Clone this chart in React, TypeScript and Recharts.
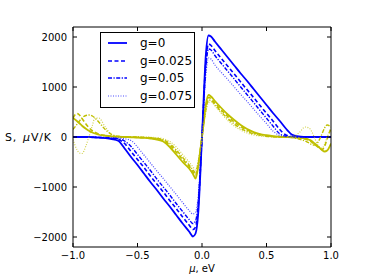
import { Label, Legend, Line, LineChart, XAxis, YAxis } from "recharts";

// chemical potential grid (eV), denser near the gap edges and the ends
const mu = [
  -1.0, -0.97, -0.95, -0.93, -0.9, -0.87, -0.85, -0.83, -0.8,
  -0.75, -0.7, -0.65, -0.6, -0.55, -0.5, -0.45, -0.4, -0.35, -0.3, -0.25, -0.2, -0.15, -0.1, -0.07, -0.05, -0.03,
  0, 0.03, 0.05, 0.07, 0.1, 0.15, 0.2, 0.25, 0.3, 0.35, 0.4, 0.45, 0.5, 0.55, 0.6, 0.65, 0.7, 0.75,
  0.8, 0.83, 0.85, 0.87, 0.9, 0.93, 0.95, 0.97, 1.0,
];

// S, uV/K — blue family
const blue0 = [
  0, 0, 0, 0, 0, -3, -5, -8, -12,
  -22, -40, -75, -230, -400, -560, -730, -900, -1060, -1230, -1390, -1560, -1730, -1890, -1990, -1930, -1550,
  0, 1650, 2030, 2010, 1910, 1750, 1590, 1430, 1270, 1120, 960, 800, 640, 480, 330, 170, 45, 10,
  3, 0, 0, 0, 0, 0, 0, 0, 0,
];
const blue1 = [
  0, 0, 0, 0, 0, -3, -5, -7, -10,
  -18, -30, -50, -130, -290, -450, -610, -780, -940, -1100, -1270, -1430, -1600, -1760, -1850, -1800, -1420,
  0, 1500, 1860, 1830, 1730, 1570, 1415, 1260, 1100, 945, 790, 630, 475, 320, 160, 40, 10, 3,
  0, 0, 0, 0, 0, 0, 0, 0, 0,
];
const blue2 = [
  0, 0, 0, 0, 0, -2, -4, -6, -8,
  -14, -22, -35, -80, -190, -350, -510, -670, -840, -1000, -1160, -1330, -1490, -1650, -1730, -1680, -1330,
  0, 1400, 1760, 1740, 1630, 1470, 1315, 1160, 1000, 845, 690, 530, 375, 220, 70, 15, 5, 0,
  0, 0, 0, 0, 0, 0, 0, 0, 0,
];
const blue3 = [
  0, 0, 0, 0, 0, 0, -2, -3, -5,
  -8, -12, -20, -35, -70, -200, -360, -520, -680, -830, -990, -1150, -1310, -1470, -1540, -1500, -1200,
  0, 1250, 1580, 1560, 1440, 1290, 1150, 1000, 850, 710, 560, 410, 270, 120, 35, 8, 0, 0,
  0, 0, 0, 0, 0, 0, 0, 0, 0,
];

// S, uV/K — olive family
const olive0 = [
  380, 320, 275, 225, 165, 115, 90, 70, 45,
  25, 12, 5, 0, -5, -10, -18, -30, -50, -90, -200, -350, -500, -630, -740, -830, -600,
  0, 650, 840, 810, 720, 580, 450, 340, 240, 160, 100, 60, 35, 15, 5, 0, -5, -15,
  -30, -55, -80, -125, -190, -260, -290, -270, -130,
];
const olive1 = [
  380, 470, 440, 370, 260, 170, 125, 95, 60,
  30, 12, 5, 0, -3, -8, -15, -25, -40, -75, -160, -300, -450, -590, -700, -770, -560,
  0, 600, 790, 770, 680, 540, 410, 300, 210, 140, 85, 50, 25, 10, 3, 0, -5, -15,
  -40, -70, -100, -140, -200, -250, -190, -40, 180,
];
const olive2 = [
  150, 250, 320, 380, 430, 440, 420, 380, 300,
  150, 50, 15, 5, 0, 0, -5, -12, -25, -55, -130, -260, -410, -560, -660, -720, -520,
  0, 550, 740, 730, 650, 500, 370, 260, 175, 110, 65, 35, 15, 5, 0, -5, -10, -40,
  -80, -120, -150, -160, -100, 60, 180, 240, 200,
];
const olive3 = [
  -50, -250, -320, -330, -180, 60, 230, 380, 380,
  200, 50, 10, 0, 0, 0, 0, -5, -15, -35, -90, -200, -350, -500, -600, -660, -490,
  0, 500, 690, 700, 620, 470, 330, 220, 140, 80, 40, 20, 8, 0, 0, 0, 10, 80,
  200, 180, 110, 0, -170, -220, -150, 0, 150,
];

const gLabels = ["g=0", "g=0.025", "g=0.05", "g=0.075"];
const xTicks = [-1, -0.5, 0, 0.5, 1];
const yTicks = [-2000, -1000, 0, 1000, 2000];

const FONT = "DejaVu Sans";
const BLUE = "#0000ff";
const OLIVE = "#bfbf00";
const DASH = [undefined, "4 2.5", "4 1.5 1.2 1.5", "1 1.5"];
const WIDTH = [1.8, 1.6, 1.4, 1.2];
const ALPHA = [1, 1, 1, 0.7];

const data = mu.map((m, i) => ({
  mu: m,
  b0: blue0[i], b1: blue1[i], b2: blue2[i], b3: blue3[i],
  y0: olive0[i], y1: olive1[i], y2: olive2[i], y3: olive3[i],
}));

const minus = (s: string) => s.replace("-", "\u2212");
const tickStyle = { fontSize: 10, fill: "#000", fontFamily: FONT };
const noTick = () => <g />;

function YTitle({ viewBox }: any) {
  const { x, y, height } = viewBox;
  return (
    <text x={x - 8} y={y + height / 2} dy="0.355em" fontSize={11} letterSpacing={0.8} fontFamily={FONT} fill="#000">
      S,<tspan dx={6} fontStyle="italic">μ</tspan>V/K
    </text>
  );
}

function XTitle({ viewBox }: any) {
  const { x, y, width, height } = viewBox;
  return (
    <text x={x + width / 2} y={y + height - 3} textAnchor="middle" fontSize={10} fontFamily={FONT} fill="#000">
      <tspan fontStyle="italic">μ</tspan>, eV
    </text>
  );
}

function LegendBox() {
  return (
    <div style={{ boxSizing: "border-box", width: 95, height: 76, border: "1px solid #000", background: "#fff", paddingTop: 1, fontFamily: FONT, fontSize: 12, color: "#000" }}>
      {gLabels.map((g, i) => (
        <div key={g} style={{ display: "flex", alignItems: "center", height: 17.8 }}>
          <svg width={19} height={4} style={{ marginLeft: 7 }}>
            <line x1={0} y1={2} x2={19} y2={2} stroke={BLUE} strokeOpacity={ALPHA[i]} strokeWidth={WIDTH[i]} strokeDasharray={DASH[i]} />
          </svg>
          <span style={{ marginLeft: 13, lineHeight: 1 }}>{g}</span>
        </div>
      ))}
    </div>
  );
}

export default function App() {
  const series = [0, 1, 2, 3].flatMap((i) => [
    { key: `b${i}`, color: BLUE, i },
    { key: `y${i}`, color: OLIVE, i },
  ]);
  return (
    <div style={{ position: "absolute", left: 0, top: 0 }}>
      <LineChart width={368} height={275} data={data} margin={{ top: 26, right: 36, bottom: 0, left: 13 }}>
        <XAxis xAxisId="x" dataKey="mu" type="number" domain={[-1, 1]} ticks={xTicks} allowDataOverflow
          tickFormatter={(v: number) => minus(v.toFixed(1))} tick={tickStyle} height={28}
          tickSize={-4} tickMargin={9} stroke="#000">
          <Label content={XTitle} />
        </XAxis>
        <XAxis xAxisId="xt" orientation="top" dataKey="mu" type="number" domain={[-1, 1]} ticks={xTicks} allowDataOverflow
          tick={noTick} height={1} tickSize={-4} stroke="#000" />
        <YAxis yAxisId="y" type="number" domain={[-2200, 2200]} ticks={yTicks} allowDataOverflow
          tickFormatter={(v: number) => minus(String(v))} tick={tickStyle} width={60}
          tickSize={-4} tickMargin={10} stroke="#000">
          <Label content={YTitle} />
        </YAxis>
        <YAxis yAxisId="yr" orientation="right" type="number" domain={[-2200, 2200]} ticks={yTicks} allowDataOverflow
          tick={noTick} width={1} tickSize={-4} stroke="#000" />
        <Legend layout="vertical" align="center" verticalAlign="middle" wrapperStyle={{ left: 100, top: 32 }} content={() => <LegendBox />} />
        {series.map((s) => (
          <Line key={s.key} xAxisId="x" yAxisId="y" type="monotone" dataKey={s.key} stroke={s.color}
            strokeWidth={WIDTH[s.i]} strokeDasharray={DASH[s.i]} strokeOpacity={ALPHA[s.i]}
            dot={false} activeDot={false} isAnimationActive={false} />
        ))}
      </LineChart>
    </div>
  );
}
